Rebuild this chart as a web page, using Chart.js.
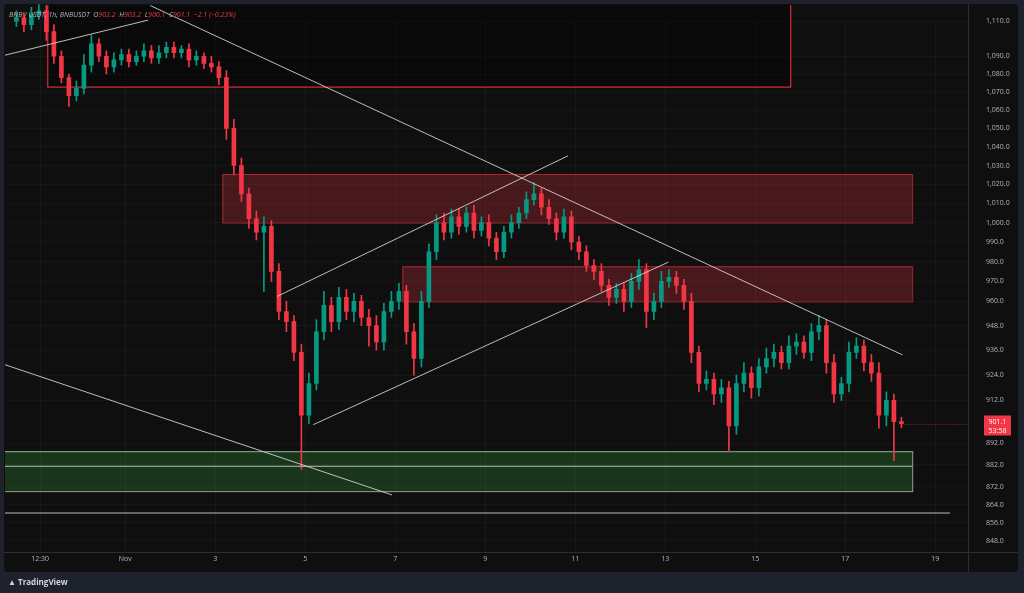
<!DOCTYPE html>
<html>
<head>
<meta charset="utf-8">
<script src="https://cdn.jsdelivr.net/npm/chart.js@4"></script>
<style>
  html, body { margin: 0; padding: 0; background: #1e222d; }
  #wrap { position: absolute; left: 0; top: 0; width: 1024px; height: 593px; }
  #panel { position: absolute; left: 4px; top: 4px; width: 1014px; height: 568px; background: #0f0f0f; border-radius: 4px; }
  #logo { position: absolute; left: 8px; top: 576px; color: #d1d4dc; font: bold 8px 'Open Sans', sans-serif; }
</style>
</head>
<body>
<div id="wrap">
  <div id="panel"></div>
  <canvas id="chart" width="1024" height="593" style="position:absolute;left:0;top:0"></canvas>
  <div id="logo">&#9650; TradingView</div>
</div>
<script>
// 4h candles, first one starts at day -1.5 (days relative to Nov 0)
const startDay = -1.5;
const closes = [
  1112, 1108, 1114,
  1116, 1104, 1090, 1078, 1068, 1072,
  1085, 1097, 1090, 1084, 1088, 1091,
  1087, 1090, 1093, 1089, 1092, 1095,
  1092, 1094, 1088, 1090, 1086, 1084,
  1078, 1050, 1030, 1015, 1002, 995,
  998, 975, 955, 950, 935, 905,
  920, 945, 958, 950, 962, 955,
  960, 952, 948, 940, 955, 960,
  965, 945, 932, 960, 985, 1000,
  995, 1003, 998, 1005, 996, 1000,
  992, 985, 995, 1000, 1005, 1012,
  1015, 1008, 1002, 995, 1003, 990,
  985, 978, 975, 968, 962, 966,
  960, 970, 976, 955, 960, 970,
  972, 968, 960, 935, 920, 922,
  915, 918, 900, 920, 925, 918,
  928, 932, 935, 930, 938, 940,
  935, 945, 948, 930, 915, 920,
  935, 938, 930, 925, 905, 912,
  902, 901.1
];
const wickUp = [
  4, 3, 4,  5, 3, 4, 3, 2, 4,  6, 5, 3, 3, 4, 3,  3, 3, 4, 3, 4, 3,
  3, 2, 3, 3, 2, 4,  3, 4, 5, 4, 3, 4,  5, 3, 4, 5, 3, 4,
  5, 6, 7, 4, 5, 4,  4, 3, 4, 5, 4, 5,  4, 3, 4, 5, 4, 4,
  5, 4, 4, 3, 4, 3,  4, 3, 3, 4, 3, 4,  6, 3, 4, 3, 4, 3,
  3, 3, 3, 4, 3, 3,  3, 4, 5, 3, 4, 5,  4, 3, 3, 4, 3, 4,
  3, 4, 3, 4, 5, 3,  4, 5, 4, 3, 5, 4,  3, 4, 5, 3, 4, 3,
  5, 4, 3, 4, 5, 4,  3, 2
];
const wickDn = [
  3, 4, 3,  3, 5, 4, 3, 6, 3,  3, 4, 3, 4, 3, 3,  3, 2, 3, 3, 3, 3,
  3, 3, 4, 3, 3, 3,  4, 6, 5, 4, 5, 4,  30, 5, 4, 5, 4, 25,
  4, 3, 4, 5, 4, 4,  5, 4, 10, 4, 4, 3,  4, 6, 8, 4, 3, 4,
  4, 3, 4, 3, 4, 3,  4, 4, 3, 3, 3, 3,  3, 4, 3, 4, 3, 4,
  4, 3, 4, 3, 4, 3,  5, 3, 4, 8, 4, 3,  3, 4, 4, 5, 4, 3,
  5, 4, 12, 4, 4, 5,  4, 3, 4, 3, 3, 4,  3, 4, 4, 5, 4, 3,
  4, 3, 4, 4, 6, 5,  18, 2
];
const xTicks = [-0.89, 1, 3, 5, 7, 9, 11, 13, 15, 17, 19];
const xTickLabels = ['12:30', 'Nov', '3', '5', '7', '9', '11', '13', '15', '17', '19'];
const yTicks = [1110, 1090, 1080, 1070, 1060, 1050, 1040, 1030, 1020, 1010, 1000, 990, 980, 970, 960, 948, 936, 924, 912, 892, 882, 872, 864, 856, 848];

const UP = '#089981', DOWN = '#f23645';
const opens = closes.map((c, i) => i === 0 ? 1110 : closes[i - 1]);
const xs = closes.map((c, i) => startDay + i / 6 + 1 / 12);
const isUp = closes.map((c, i) => c >= opens[i]);
const wicks = closes.map((c, i) => ({ x: xs[i], y: [Math.min(c, opens[i]) - wickDn[i], Math.max(c, opens[i]) + wickUp[i]] }));
const bodies = closes.map((c, i) => ({ x: xs[i], y: [opens[i], c === opens[i] ? c + 0.3 : c] }));
const candleColor = ctx => isUp[ctx.dataIndex] ? UP : DOWN;

// drawings in data coordinates: [x1, y1, x2, y2]
const boxes = [
  { r: [-0.73, 1140, 15.78, 1073], fill: 'rgba(0,0,0,0.35)', stroke: '#f23645' },
  { r: [3.16, 1025.5, 18.49, 1000], fill: 'rgba(242,54,69,0.25)', stroke: 'rgba(242,54,69,0.6)' },
  { r: [7.16, 977.6, 18.49, 960], fill: 'rgba(242,54,69,0.25)', stroke: 'rgba(242,54,69,0.6)' },
  { r: [-2, 888.3, 18.49, 870.1], fill: 'rgba(46,125,50,0.35)', stroke: 'rgba(200,230,200,0.7)' }
];
const lines = [
  [-1.67, 1090.6, 1.51, 1110.6],
  [1.56, 1119, 18.27, 933.8],
  [-1.67, 929.0, 6.93, 868.4],
  [4.38, 962.5, 10.84, 1035.2],
  [5.18, 900.6, 13.07, 979.7],
  [-2, 881.4, 18.49, 881.4],
  [-2, 860.3, 19.33, 860.3]
];

const drawings = {
  id: 'drawings',
  beforeDatasetsDraw(chart) {
    const { ctx, scales: { x, y }, chartArea: a } = chart;
    ctx.save();
    ctx.beginPath(); ctx.rect(a.left, 5, a.right - a.left, a.bottom - 5); ctx.clip();
    boxes.forEach(b => {
      const x1 = x.getPixelForValue(b.r[0]), y1 = y.getPixelForValue(b.r[1]);
      const x2 = x.getPixelForValue(b.r[2]), y2 = y.getPixelForValue(b.r[3]);
      ctx.fillStyle = b.fill; ctx.fillRect(x1, y1, x2 - x1, y2 - y1);
      ctx.strokeStyle = b.stroke; ctx.lineWidth = 1; ctx.strokeRect(x1 + 0.5, y1 + 0.5, x2 - x1, y2 - y1);
    });
    ctx.restore();
  },
  afterDatasetsDraw(chart) {
    const { ctx, scales: { x, y }, chartArea: a } = chart;
    ctx.save();
    ctx.beginPath(); ctx.rect(a.left, 5, a.right - a.left, a.bottom - 5); ctx.clip();
    ctx.strokeStyle = 'rgba(220,220,220,0.85)'; ctx.lineWidth = 1;
    lines.forEach(l => {
      ctx.beginPath();
      ctx.moveTo(x.getPixelForValue(l[0]), y.getPixelForValue(l[1]));
      ctx.lineTo(x.getPixelForValue(l[2]), y.getPixelForValue(l[3]));
      ctx.stroke();
    });
    // last price line
    const last = closes[closes.length - 1];
    const py = Math.round(y.getPixelForValue(last)) + 0.5;
    ctx.strokeStyle = 'rgba(242,54,69,0.6)'; ctx.setLineDash([1, 2]);
    ctx.beginPath(); ctx.moveTo(x.getPixelForValue(xs[xs.length - 1]), py); ctx.lineTo(a.right, py); ctx.stroke();
    ctx.restore();

    // price tag
    ctx.save();
    ctx.fillStyle = DOWN; ctx.fillRect(a.right + 16, py - 9, 27, 20);
    ctx.fillStyle = '#fff'; ctx.font = '7px "Open Sans"'; ctx.textAlign = 'center';
    ctx.fillText(last.toFixed(1), a.right + 29.5, py - 1);
    ctx.fillText('53:58', a.right + 29.5, py + 8);
    // header legend
    ctx.textAlign = 'left'; ctx.font = 'italic 7px "Open Sans"';
    let hx = 9;
    const parts = [['BNB / USDT, 1h, BNBUSDT  ', '#b2b5be'], ['O', '#b2b5be'], ['903.2  ', DOWN], ['H', '#b2b5be'], ['903.2  ', DOWN],
      ['L', '#b2b5be'], ['900.1  ', DOWN], ['C', '#b2b5be'], ['901.1  −2.1 (−0.23%)', DOWN]];
    parts.forEach(p => { ctx.fillStyle = p[1]; ctx.fillText(p[0], hx, 17); hx += ctx.measureText(p[0]).width; });
    // axis separators
    ctx.strokeStyle = '#2a2e39';
    ctx.beginPath(); ctx.moveTo(a.right + 0.5, 4); ctx.lineTo(a.right + 0.5, 572); ctx.stroke();
    ctx.beginPath(); ctx.moveTo(4, a.bottom + 0.5); ctx.lineTo(1018, a.bottom + 0.5); ctx.stroke();
    ctx.restore();
  }
};

new Chart(document.getElementById('chart'), {
  type: 'bar',
  data: {
    datasets: [
      { data: wicks, backgroundColor: candleColor, barThickness: 1, grouped: false, clip: { left: 0, top: 18, right: 0, bottom: 0 } },
      { data: bodies, backgroundColor: candleColor, barThickness: 4, grouped: false, clip: { left: 0, top: 18, right: 0, bottom: 0 } }
    ]
  },
  options: {
    responsive: false,
    animation: false,
    layout: { padding: { left: 5, top: 5, right: 0, bottom: 21 } },
    plugins: { legend: { display: false }, tooltip: { enabled: false } },
    scales: {
      x: {
        type: 'linear', min: -1.67, max: 19.73, offset: false,
        afterBuildTicks: s => { s.ticks = xTicks.map(v => ({ value: v })); },
        afterFit: s => { s.height = 20; },
        ticks: { color: '#b2b5be', font: { size: 7, family: 'Open Sans' }, maxRotation: 0, autoSkip: false,
          callback: (v, i) => xTickLabels[i] },
        grid: { color: 'rgba(255,255,255,0.04)', drawTicks: false, offset: false },
        border: { display: false }
      },
      y: {
        type: 'logarithmic', position: 'right', min: 843.1, max: 1109.4,
        afterBuildTicks: s => { s.ticks = yTicks.map(v => ({ value: v })); },
        afterFit: s => { s.width = 56; },
        ticks: { color: '#b2b5be', font: { size: 7, family: 'Open Sans' }, padding: 18, autoSkip: false,
          callback: v => v.toLocaleString('en-US', { minimumFractionDigits: 1, maximumFractionDigits: 1 }) },
        grid: { color: 'rgba(255,255,255,0.03)', drawTicks: false },
        border: { display: false }
      }
    }
  },
  plugins: [drawings]
});
</script>
</body>
</html>
